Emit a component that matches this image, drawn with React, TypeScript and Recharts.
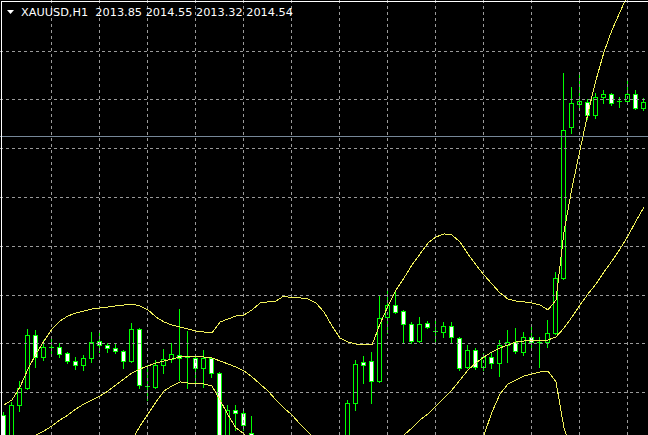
import { Bar, ComposedChart, Line, ReferenceLine, XAxis, YAxis } from "recharts";

// XAUUSD H1 candles, oldest first
const opens = [
  1982.71, 1979.64, 1983.74, 1985.48, 1990.91, 1988.66, 1989.68, 1989.68, 1989.07, 1988.25,
  1987.84, 1988.56, 1990.3, 1989.89, 1989.58, 1989.27, 1988.25, 1991.53, 1985.69, 1985.58,
  1987.84, 1988.46, 1988.87, 1988.66, 1988.56, 1987.53, 1988.56, 1987.02, 1979.94, 1983.23,
  1982.92, 1980.87, 1979.33, 1977.08, 1975.85, 1974.21, 1975.03, 1973.18, 1974.0, 1974.62,
  1975.44, 1976.46, 1977.28, 1979.13, 1983.94, 1988.14, 1988.25, 1986.2, 1992.76, 1993.99,
  1993.37, 1992.04, 1990.3, 1992.14, 1991.32, 1991.22, 1991.84, 1990.61, 1987.63, 1989.38,
  1987.63, 1988.66, 1988.04, 1989.89, 1990.19, 1989.17, 1990.71, 1990.19, 1990.19, 1991.12,
  1996.76, 2012.23, 2014.59, 2014.8, 2013.46, 2015.31, 2015.62, 2014.9, 2014.9, 2015.62,
  2014.18,
];
const highs = [
  1983.02, 1984.04, 1986.2, 1991.53, 1991.43, 1990.4, 1990.71, 1990.09, 1989.17, 1988.66,
  1988.87, 1991.22, 1991.12, 1990.09, 1990.09, 1989.38, 1992.14, 1991.63, 1987.84, 1988.35,
  1989.48, 1990.09, 1993.58, 1991.32, 1988.87, 1989.38, 1988.66, 1987.12, 1983.74, 1983.74,
  1983.23, 1982.61, 1980.15, 1978.31, 1977.08, 1975.85, 1976.05, 1974.82, 1975.54, 1976.26,
  1977.08, 1977.9, 1979.33, 1984.25, 1988.35, 1988.76, 1989.17, 1995.01, 1995.53, 1995.32,
  1993.48, 1992.24, 1992.76, 1992.35, 1992.35, 1992.24, 1992.24, 1990.71, 1989.89, 1989.58,
  1989.07, 1989.07, 1990.4, 1991.43, 1991.63, 1991.22, 1991.73, 1990.71, 1992.45, 1997.37,
  2017.77, 2016.33, 2017.56, 2015.1, 2015.72, 2016.03, 2015.72, 2015.31, 2016.95, 2016.03,
  2015.21,
];
const lows = [
  1979.33, 1979.13, 1983.12, 1985.38, 1987.63, 1988.35, 1989.07, 1988.66, 1988.04, 1987.43,
  1987.33, 1988.14, 1989.17, 1989.17, 1989.07, 1987.53, 1988.14, 1985.48, 1984.25, 1985.48,
  1987.02, 1988.14, 1986.3, 1985.48, 1985.99, 1985.58, 1986.61, 1979.64, 1979.53, 1981.18,
  1981.18, 1978.92, 1976.26, 1975.03, 1973.49, 1972.98, 1972.46, 1971.95, 1972.77, 1973.49,
  1974.21, 1975.54, 1976.56, 1978.62, 1983.23, 1985.99, 1983.94, 1986.1, 1991.12, 1993.17,
  1990.09, 1990.09, 1990.19, 1991.63, 1990.09, 1990.71, 1990.09, 1987.33, 1987.53, 1987.43,
  1987.33, 1987.53, 1986.71, 1988.14, 1989.07, 1988.87, 1989.68, 1987.63, 1989.68, 1991.02,
  1996.65, 2011.62, 2013.98, 2013.05, 2013.16, 2014.69, 2014.49, 2014.28, 2014.8, 2014.08,
  2013.98,
];
const closes = [
  1980.15, 1983.74, 1985.48, 1990.91, 1988.66, 1989.68, 1989.68, 1988.97, 1988.25, 1987.84,
  1988.56, 1990.19, 1989.89, 1989.58, 1989.27, 1988.25, 1991.53, 1985.79, 1985.69, 1987.84,
  1988.46, 1988.97, 1988.56, 1988.66, 1987.53, 1988.56, 1987.02, 1979.94, 1983.23, 1982.92,
  1981.69, 1979.33, 1977.08, 1975.85, 1974.21, 1975.03, 1973.18, 1974.0, 1974.62, 1975.44,
  1976.46, 1977.28, 1978.92, 1983.94, 1987.94, 1987.84, 1986.2, 1992.66, 1993.99, 1993.27,
  1992.04, 1990.3, 1992.04, 1991.73, 1991.32, 1991.84, 1990.71, 1987.53, 1989.38, 1987.63,
  1988.66, 1988.04, 1989.89, 1990.19, 1989.27, 1990.71, 1990.19, 1990.19, 1991.12, 1996.76,
  2011.93, 2014.69, 2014.9, 2013.46, 2015.31, 2015.62, 2014.69, 2014.9, 2015.62, 2014.18,
  2014.8,
];

// Bollinger Bands (20)
const upperBand = [
  1983.74, 1984.25, 1985.58, 1987.43, 1988.97, 1990.3, 1991.53, 1992.35, 1992.86, 1993.17,
  1993.37, 1993.58, 1993.68, 1993.78, 1993.89, 1993.99, 1994.09, 1993.89, 1993.48, 1992.76,
  1992.24, 1991.94, 1991.73, 1991.53, 1991.32, 1991.22, 1991.12, 1992.24, 1992.55, 1992.86,
  1992.96, 1993.48, 1994.19, 1994.3, 1994.4, 1994.91, 1994.71, 1994.71, 1994.6, 1994.19,
  1993.27, 1991.84, 1990.61, 1990.19, 1989.99, 1989.89, 1989.89, 1992.04, 1993.89, 1995.53,
  1996.76, 1998.09, 1999.21, 2000.34, 2000.96, 2001.27, 2001.16, 2000.45, 1999.21, 1998.09,
  1997.06, 1996.14, 1995.22, 1994.6, 1994.4, 1994.3, 1994.19, 1993.99, 1993.48, 1994.5,
  2001.47, 2005.98, 2009.88, 2013.67, 2017.05, 2019.92, 2022.18, 2024.02, 2025.87, 2027.92,
  2029.97,
];
const middleBand = [
  1978.92, 1979.33, 1979.74, 1980.15, 1980.66, 1981.07, 1981.59, 1982.2, 1982.71, 1983.33,
  1983.84, 1984.25, 1984.66, 1985.17, 1985.79, 1986.4, 1987.02, 1987.43, 1987.74, 1988.04,
  1988.25, 1988.46, 1988.66, 1988.66, 1988.66, 1988.66, 1988.56, 1988.25, 1987.94, 1987.63,
  1987.22, 1986.61, 1985.89, 1985.17, 1984.25, 1983.43, 1982.71, 1981.79, 1980.97, 1980.15,
  1979.43, 1978.92, 1978.51, 1978.31, 1978.31, 1978.41, 1978.61, 1979.13, 1979.53, 1980.05,
  1980.66, 1981.38, 1982.2, 1982.82, 1983.64, 1984.46, 1985.28, 1986.3, 1987.33, 1988.04,
  1988.66, 1989.17, 1989.58, 1989.89, 1990.19, 1990.3, 1990.3, 1990.3, 1990.4, 1990.71,
  1991.63, 1992.76, 1993.99, 1995.12, 1996.14, 1997.37, 1998.5, 1999.73, 2001.06, 2002.6,
  2004.03,
];
const lowerBand = [
  1974.1, 1974.41, 1974.0, 1972.98, 1972.46, 1971.95, 1971.74, 1972.15, 1972.67, 1973.49,
  1974.31, 1974.92, 1975.54, 1976.56, 1977.69, 1978.92, 1980.15, 1981.59, 1982.82, 1984.04,
  1985.17, 1985.69, 1986.1, 1985.99, 1985.99, 1985.89, 1985.69, 1984.25, 1982.71, 1981.38,
  1980.77, 1979.33, 1977.59, 1976.05, 1974.1, 1971.95, 1970.72, 1968.88, 1967.34, 1966.11,
  1965.6, 1966.01, 1966.42, 1966.62, 1966.62, 1966.93, 1967.44, 1967.34, 1965.39, 1964.57,
  1964.37, 1964.67, 1965.19, 1965.29, 1966.11, 1967.65, 1969.39, 1972.15, 1975.44, 1978.1,
  1980.66, 1983.02, 1984.86, 1985.89, 1986.3, 1986.71, 1986.92, 1987.12, 1987.22, 1986.1,
  1981.38, 1978.92, 1977.9, 1976.46, 1975.23, 1974.62, 1974.41, 1975.03, 1976.26, 1977.28,
  1977.9,
];

const priceGrid = [1985, 1990, 1995, 2000, 2005, 2010, 2015, 2020];
const barGrid = [6, 12, 18, 24, 30, 36, 42, 48, 54, 60, 66, 72, 78];
const bidPrice = 2011.21;
const symbol = "XAUUSD,H1";
const quote = [2013.85, 2014.55, 2013.32, 2014.54];

const GREEN = "#00ff00";
const BAND = "#f2f25a";
const GRID = "#9a9a9a";

const data = opens.map((open, i) => ({
  bar: i,
  open,
  high: highs[i],
  low: lows[i],
  close: closes[i],
  range: [lows[i], highs[i]],
  upper: upperBand[i],
  middle: middleBand[i],
  lower: lowerBand[i],
}));

function Candle(props: any) {
  const { x, y, width, height, payload } = props;
  if (x == null || y == null || !payload) return null;
  const top = Math.min(y, y + height);
  const h = Math.abs(height);
  const { open, close, high, low } = payload;
  const span = high - low || 1;
  const row = (p: number) => Math.round(top + ((high - p) / span) * h);
  const wx = Math.floor(x + width / 2 - 0.5) + 0.5;
  const bodyTop = row(Math.max(open, close));
  const bodyBot = row(Math.min(open, close));
  const bear = close < open;
  return (
    <g shapeRendering="crispEdges">
      <line x1={wx} x2={wx} y1={row(high)} y2={row(low) + 1} stroke={GREEN} />
      {bodyTop === bodyBot ? (
        <line x1={wx - 2.5} x2={wx + 2.5} y1={bodyTop + 0.5} y2={bodyTop + 0.5} stroke={GREEN} />
      ) : (
        <rect
          x={wx - 2}
          y={bodyTop + 0.5}
          width={4}
          height={bodyBot - bodyTop}
          fill={bear ? "#ffffff" : "#000000"}
          stroke={GREEN}
        />
      )}
    </g>
  );
}

function GridLine(props: any) {
  const { x1, y1, x2, y2, stroke, strokeDasharray } = props;
  const vertical = x1 === x2;
  const px = Math.floor(x1 - 0.5) + 0.5;
  const py = Math.floor(y1) + 0.5;
  return (
    <line
      x1={vertical ? px : x1}
      x2={vertical ? px : x2}
      y1={vertical ? y1 : py}
      y2={vertical ? y2 : py}
      stroke={stroke}
      strokeDasharray={strokeDasharray}
      shapeRendering="crispEdges"
    />
  );
}

export default function App() {
  return (
    <div style={{ position: "relative", width: 648, height: 435, background: "#000", overflow: "hidden" }}>
      <style>{`body{margin:0;background:#000}.recharts-line-curve{shape-rendering:crispEdges}`}</style>
      <ComposedChart width={648} height={435} data={data} margin={{ top: 0, right: 0, bottom: 0, left: 0 }}>
        <XAxis dataKey="bar" type="category" hide />
        <YAxis type="number" domain={[1980.66, 2025.25]} allowDataOverflow hide />
        {barGrid.map((b) => (
          <ReferenceLine key={"v" + b} x={b} stroke={GRID} strokeDasharray="3 3" shape={<GridLine />} />
        ))}
        {priceGrid.map((p) => (
          <ReferenceLine key={"h" + p} y={p} stroke={GRID} strokeDasharray="3 3" shape={<GridLine />} />
        ))}
        <Line dataKey="upper" type="linear" stroke={BAND} strokeWidth={1} dot={false} activeDot={false} isAnimationActive={false} />
        <Line dataKey="middle" type="linear" stroke={BAND} strokeWidth={1} dot={false} activeDot={false} isAnimationActive={false} />
        <Line dataKey="lower" type="linear" stroke={BAND} strokeWidth={1} dot={false} activeDot={false} isAnimationActive={false} />
        <Bar dataKey="range" shape={<Candle />} isAnimationActive={false} />
        <ReferenceLine y={bidPrice} stroke="#778899" shape={<GridLine />} />
      </ComposedChart>
      <div style={{ position: "absolute", left: 1, top: 1, width: 647, height: 434, borderTop: "1px solid #fff", borderLeft: "1px solid #fff", pointerEvents: "none" }} />
      <svg width={10} height={8} style={{ position: "absolute", left: 6, top: 9 }}>
        <polygon points="1,1 8,1 4.5,5" fill="#fff" />
      </svg>
      <div
        style={{
          position: "absolute",
          left: 21,
          top: 4,
          font: '11.3px "DejaVu Sans"',
          lineHeight: "17px",
          color: "#fff",
          whiteSpace: "pre",
        }}
      >
        {symbol + "  " + quote.map((q) => q.toFixed(2)).join(" ")}
      </div>
    </div>
  );
}
